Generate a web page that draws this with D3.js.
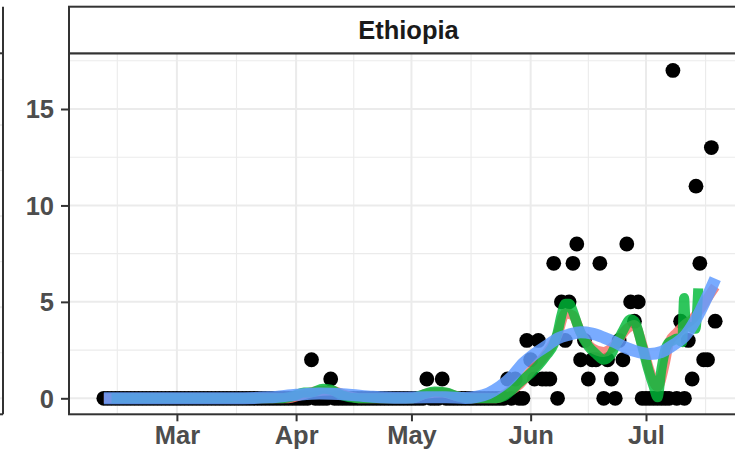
<!DOCTYPE html>
<html>
<head>
<meta charset="utf-8">
<script src="https://cdn.jsdelivr.net/npm/d3@7"></script>
<style>
html, body { margin: 0; padding: 0; background: #ffffff; }
svg { display: block; }
</style>
</head>
<body>
<svg id="chart" width="735" height="451"></svg>
<script>
// ---------------- DATA ----------------
const facetTitle = "Ethiopia";
const firstDay = "2020-02-11";

// daily counts, one value per day starting at firstDay (Feb 11 .. Jul 19)
const febCounts = [0,0,0,0,0,0,0,0,0,0,0,0,0,0,0,0,0,0,0];                       // Feb 11-29
const marCounts = [0,0,0,0,0,0,0,0,0,0,0,0,0,0,0,0,0,0,0,0,0,0,0,0,0,0,0,0,0,0,0]; // Mar
const aprCounts = [0,0,0,0,2,0,0,0,0,1,0,0,0,0,0,0,0,0,0,0,0,0,0,0,0,0,0,0,0,0];   // Apr
const mayCounts = [0,0,0,0,1,0,0,0,1,0,0,0,0,0,0,0,0,0,0,0,0,0,0,0,0,1,0,1,0,0,3]; // May
const junCounts = [2,1,3,1,1,1,7,0,5,3,5,7,8,2,3,1,2,2,7,0,2,1,0,3,2,8,5,4,5,0];   // Jun
const julCounts = [0,0,0,0,0,0,0,17,0,4,0,3,1,11,7,2,2,13,4];                     // Jul 1-19

// red line
const redDates  = ["2020-02-11","2020-03-30","2020-04-02","2020-04-06","2020-04-10","2020-04-14","2020-04-18",
                   "2020-05-01","2020-05-05","2020-05-09","2020-05-13","2020-05-17","2020-05-23","2020-05-26",
                   "2020-05-29","2020-06-01","2020-06-05","2020-06-08","2020-06-10","2020-06-12","2020-06-14",
                   "2020-06-17","2020-06-20","2020-06-23","2020-06-26","2020-06-28","2020-06-30","2020-07-02",
                   "2020-07-04","2020-07-06","2020-07-07","2020-07-09","2020-07-11","2020-07-13","2020-07-15",
                   "2020-07-17","2020-07-19"];
const redValues = [0,0,0.15,0.35,0.4,0.15,0,
                   0,0.25,0.3,0.1,0,0,0.3,
                   0.7,1.4,2.3,3.3,4.4,4.3,3.4,
                   2.6,2.4,2.8,3.6,3.8,2.8,1.4,
                   0.6,1.9,2.9,3.4,3.8,4.1,4.6,
                   5.2,5.8];

// green line
const greenDates  = ["2020-02-13","2020-03-28","2020-03-31","2020-04-03","2020-04-05","2020-04-08","2020-04-10",
                     "2020-04-13","2020-04-17","2020-05-01","2020-05-04","2020-05-07","2020-05-10","2020-05-13",
                     "2020-05-16","2020-05-23","2020-05-25","2020-05-27","2020-05-29","2020-06-01","2020-06-03",
                     "2020-06-05","2020-06-07","2020-06-08","2020-06-09","2020-06-10","2020-06-11","2020-06-12",
                     "2020-06-13","2020-06-14","2020-06-16","2020-06-18","2020-06-20","2020-06-22","2020-06-23",
                     "2020-06-25","2020-06-27","2020-06-28","2020-06-30","2020-07-01T14:00","2020-07-03",
                     "2020-07-04","2020-07-05","2020-07-06","2020-07-07","2020-07-08","2020-07-09",
                     "2020-07-10T10:00","2020-07-10T22:00","2020-07-11T08:00","2020-07-12T12:00",
                     "2020-07-13T20:00","2020-07-14T14:00"];
const greenValues = [0,0,0.1,0.3,0.3,0.5,0.45,
                     0.15,0,0,0.2,0.35,0.3,0.1,
                     0,0,0.1,0.4,0.8,1.3,1.7,
                     2.2,2.8,3.4,4.3,4.9,4.9,4.5,
                     3.9,3.4,2.7,2.3,2.0,2.3,2.7,
                     3.5,4.1,4.0,2.7,1.5,0.6,
                     0.05,1.5,2.5,2.9,3.0,3.1,
                     2.9,5.2,3.8,3.7,
                     3.6,5.7];

// blue smooth line
const blueDates  = ["2020-02-11","2020-03-15","2020-03-25","2020-04-01","2020-04-07","2020-04-14","2020-04-21",
                    "2020-04-28","2020-05-05","2020-05-10","2020-05-15","2020-05-18","2020-05-21","2020-05-24",
                    "2020-05-27","2020-05-30","2020-06-02","2020-06-05","2020-06-08","2020-06-11","2020-06-14",
                    "2020-06-17","2020-06-20","2020-06-23","2020-06-26","2020-06-29","2020-07-02","2020-07-05",
                    "2020-07-08","2020-07-11","2020-07-14","2020-07-17","2020-07-19"];
const blueValues = [0,0,0.05,0.18,0.25,0.2,0.08,
                    0.03,0.05,0.05,0.02,0.08,0.25,0.6,
                    1.1,1.8,2.3,2.7,3.1,3.3,3.42,
                    3.35,3.15,2.9,2.6,2.4,2.3,2.4,
                    2.75,3.2,4.1,5.3,6.2];

// axis breaks
const yMajor = [0, 5, 10, 15];
const yMinor = [2.5, 7.5, 12.5, 17.5];
const xMajor = ["2020-03-01","2020-04-01","2020-05-01","2020-06-01","2020-07-01"];
const xLabels = ["Mar","Apr","May","Jun","Jul"];
const xMinor = ["2020-02-14T12:00","2020-03-16T12:00","2020-04-16","2020-05-16T12:00","2020-06-16","2020-07-16T12:00"];

// partial neighbouring facet (only its grid sliver is visible)
const leftFacetMajor = [0, 20, 40, 60];
const leftFacetMinor = [10, 30, 50, 70];

// ---------------- DRAW ----------------
const parseD = s => s.length > 10 ? d3.utcParse("%Y-%m-%dT%H:%M")(s) : d3.utcParse("%Y-%m-%d")(s);
const allCounts = [].concat(febCounts, marCounts, aprCounts, mayCounts, junCounts, julCounts);
const day0 = parseD(firstDay);
const points = allCounts.map((v, i) => ({ date: d3.utcDay.offset(day0, i), value: v }));

const svg = d3.select("#chart");
const FONT = "'Liberation Sans', Arial, Helvetica, sans-serif";
const FS = 25.5;

const panel = { left: 69, right: 748, top: 53.3, bottom: 414.3 };
const strip = { top: 6.7, bottom: 53.3 };

const x = d3.scaleUtc()
  .domain([parseD("2020-03-01"), parseD("2020-07-01")])
  .range([176.9, 646]);
const y = d3.scaleLinear().domain([0, 15]).range([398.3, 109.0]);
const yLeft = d3.scaleLinear().domain([0, 60]).range([398.3, 125]);

// left neighbour facet sliver
const gl = svg.append("g");
gl.selectAll("line.lmin").data(leftFacetMinor).join("line")
  .attr("x1", 0).attr("x2", 3).attr("y1", d => yLeft(d)).attr("y2", d => yLeft(d))
  .attr("stroke", "#ebebeb").attr("stroke-width", 1);
gl.selectAll("line.lmaj").data(leftFacetMajor).join("line")
  .attr("x1", 0).attr("x2", 3).attr("y1", d => yLeft(d)).attr("y2", d => yLeft(d))
  .attr("stroke", "#ebebeb").attr("stroke-width", 2);
gl.append("line").attr("x1", 3).attr("x2", 3).attr("y1", strip.top).attr("y2", panel.bottom)
  .attr("stroke", "#333333").attr("stroke-width", 2);
gl.append("line").attr("x1", 0).attr("x2", 3).attr("y1", strip.bottom).attr("y2", strip.bottom)
  .attr("stroke", "#333333").attr("stroke-width", 2);
gl.append("line").attr("x1", 0).attr("x2", 3).attr("y1", panel.bottom).attr("y2", panel.bottom)
  .attr("stroke", "#333333").attr("stroke-width", 2);

// panel background
svg.append("rect").attr("x", panel.left).attr("y", panel.top)
  .attr("width", panel.right - panel.left).attr("height", panel.bottom - panel.top)
  .attr("fill", "#ffffff");

const grid = svg.append("g");
grid.selectAll("line.ymin").data(yMinor).join("line")
  .attr("x1", panel.left).attr("x2", panel.right)
  .attr("y1", d => y(d)).attr("y2", d => y(d))
  .attr("stroke", "#ebebeb").attr("stroke-width", 1.1);
grid.selectAll("line.xmin").data(xMinor).join("line")
  .attr("y1", panel.top).attr("y2", panel.bottom)
  .attr("x1", d => x(parseD(d))).attr("x2", d => x(parseD(d)))
  .attr("stroke", "#ebebeb").attr("stroke-width", 1.1);
grid.selectAll("line.ymaj").data(yMajor).join("line")
  .attr("x1", panel.left).attr("x2", panel.right)
  .attr("y1", d => y(d)).attr("y2", d => y(d))
  .attr("stroke", "#ebebeb").attr("stroke-width", 2);
grid.selectAll("line.xmaj").data(xMajor).join("line")
  .attr("y1", panel.top).attr("y2", panel.bottom)
  .attr("x1", d => x(parseD(d))).attr("x2", d => x(parseD(d)))
  .attr("stroke", "#ebebeb").attr("stroke-width", 2);

// points
svg.append("g").selectAll("circle").data(points).join("circle")
  .attr("cx", d => x(d.date)).attr("cy", d => y(d.value))
  .attr("r", 7.4).attr("fill", "#000000");

// lines
function series(dates, values) {
  return dates.map((d, i) => ({ date: parseD(d), value: values[i] }));
}
const lineGen = d3.line().x(d => x(d.date)).y(d => y(d.value)).curve(d3.curveMonotoneX);
const lines = [
  { data: series(redDates, redValues), color: "#F8766D", width: 10, opacity: 0.85 },
  { data: series(greenDates, greenValues), color: "#00BA38", width: 10, opacity: 0.82 },
  { data: series(blueDates, blueValues), color: "#619CFF", width: 12, opacity: 0.85 }
];
svg.append("g").selectAll("path").data(lines).join("path")
  .attr("d", d => lineGen(d.data))
  .attr("fill", "none")
  .attr("stroke", d => d.color)
  .attr("stroke-width", d => d.width)
  .attr("stroke-opacity", d => d.opacity)
  .attr("stroke-linejoin", "round")
  .attr("stroke-linecap", "butt");

// panel border
svg.append("rect").attr("x", panel.left).attr("y", panel.top)
  .attr("width", panel.right - panel.left).attr("height", panel.bottom - panel.top)
  .attr("fill", "none").attr("stroke", "#333333").attr("stroke-width", 2);

// strip
svg.append("rect").attr("x", panel.left).attr("y", strip.top)
  .attr("width", panel.right - panel.left).attr("height", strip.bottom - strip.top)
  .attr("fill", "#ffffff").attr("stroke", "#333333").attr("stroke-width", 2);
svg.append("text")
  .attr("x", (panel.left + panel.right) / 2).attr("y", (strip.top + strip.bottom) / 2)
  .attr("text-anchor", "middle").attr("dominant-baseline", "central")
  .attr("font-family", FONT).attr("font-weight", "bold").attr("font-size", FS)
  .attr("fill", "#1a1a1a").text(facetTitle);

// y axis
const yAxisG = svg.append("g").attr("transform", `translate(${panel.left},0)`)
  .call(d3.axisLeft(y).tickValues(yMajor).tickSize(8).tickPadding(7).tickFormat(d3.format("d")));
yAxisG.select(".domain").remove();
yAxisG.selectAll(".tick line").attr("stroke", "#333333").attr("stroke-width", 2);
yAxisG.selectAll(".tick text").attr("font-family", FONT).attr("font-weight", "bold")
  .attr("font-size", FS).attr("fill", "#4d4d4d").attr("dy", "0.35em");

// x axis
const xAxisG = svg.append("g").attr("transform", `translate(0,${panel.bottom})`)
  .call(d3.axisBottom(x).tickValues(xMajor.map(parseD)).tickSize(7).tickPadding(5)
    .tickFormat((d, i) => xLabels[i]));
xAxisG.select(".domain").remove();
xAxisG.selectAll(".tick line").attr("stroke", "#333333").attr("stroke-width", 2);
xAxisG.selectAll(".tick text").attr("font-family", FONT).attr("font-weight", "bold")
  .attr("font-size", FS).attr("fill", "#4d4d4d").attr("dy", "0.71em");
</script>
</body>
</html>
